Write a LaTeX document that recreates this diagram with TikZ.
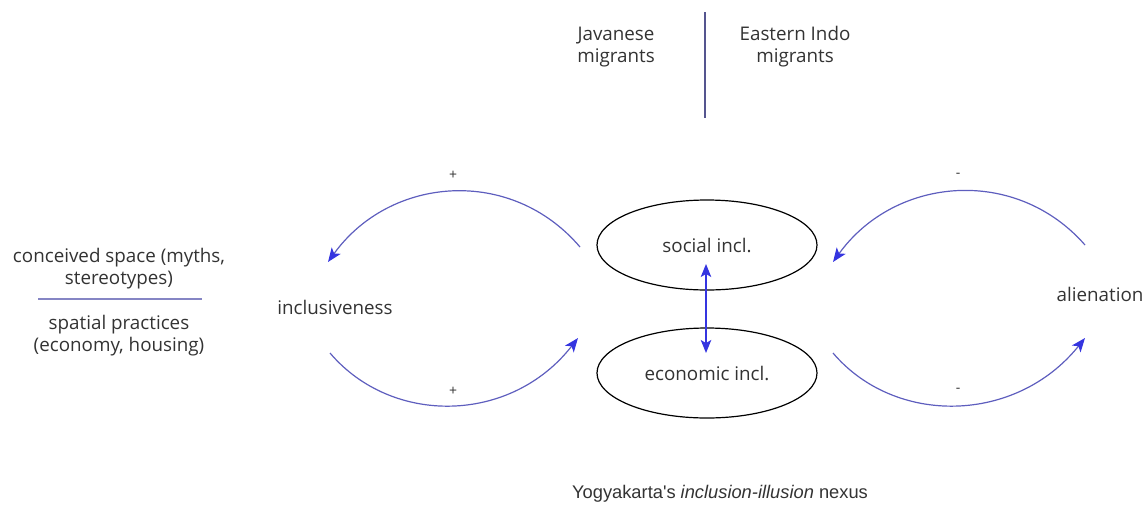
\documentclass[tikz,border=0pt]{standalone}
\usepackage{fontspec}
\newfontfamily\osfont{Open Sans}
\newfontfamily\arfont{Liberation Sans}[Ligatures=TeXOff]
\usetikzlibrary{arrows.meta,shapes.geometric}
\definecolor{txt}{HTML}{333333}
\definecolor{loopline}{HTML}{5E5EBE}
\definecolor{tipblue}{HTML}{3535E0}
\definecolor{divline}{HTML}{55558F}
\definecolor{sepline}{HTML}{8585C4}
\begin{document}
\begin{tikzpicture}[x=1pt,y=-1pt,
  lbl/.style={font=\osfont\fontsize{18.8}{22}\selectfont, text=txt, align=center, inner sep=0pt},
  sign/.style={font=\osfont\fontsize{14}{14}\selectfont, text=txt, inner sep=0pt},
  inclbox/.style={ellipse, draw=black, line width=1.2pt, minimum width=220pt, minimum height=90pt,
    inner sep=0pt, font=\osfont\fontsize{18.8}{22}\selectfont, text=txt},
  looparrow/.style={draw=loopline, line width=1.2pt,
    -{Stealth[length=14pt,width=11pt,inset=3.5pt,color=tipblue]}},
  twoway/.style={draw=tipblue, line width=1.3pt,
    {Stealth[length=13pt,width=10.5pt,inset=3pt]}-{Stealth[length=13pt,width=10.5pt,inset=3pt]}}
]
\useasboundingbox (0,0) rectangle (1145,512);

% migrant groups and divider
\node[lbl] (jav) at (616,47) {Javanese\\migrants};
\node[lbl] (east) at (795,47) {Eastern Indo\\migrants};
\coordinate (divtop) at (705,12);
\coordinate (divbot) at (705,118);
\draw[divline, line width=1.4pt] (divtop) -- (divbot);

% space legend
\node[lbl] (conc) at (119,269) {conceived space (myths,\\stereotypes)};
\node[lbl] (spat) at (119,336) {spatial practices\\(economy, housing)};
\coordinate (sepL) at (38,299);
\coordinate (sepR) at (202,299);
\draw[sepline, line width=2.2pt] (sepL) -- (sepR);

% outcomes
\node[lbl] (incl) at (335,307) {inclusiveness};
\node[lbl] (alien) at (1100,294) {alienation};

% inclusion dimensions
\node[inclbox] (soc) at (707,245) {social incl.};
\node[inclbox] (eco) at (707,373) {economic incl.};
\coordinate (dT) at (706,264);
\coordinate (dB) at (706,353);
\draw[twoway] (dT) -- (dB);

% loop end points
\coordinate (ulS) at (580,247);
\coordinate (ulE) at (328,262);
\coordinate (llS) at (330,353);
\coordinate (llE) at (578,338);
\coordinate (urS) at (1085,245);
\coordinate (urE) at (833,262);
\coordinate (lrS) at (833,353);
\coordinate (lrE) at (1085,338);

\draw[looparrow] (ulS) .. controls (511,166) and (390,176) .. (ulE);
\draw[looparrow] (llS) .. controls (392,426) and (511,424) .. (llE);
\draw[looparrow] (urS) .. controls (1016,166) and (895,176) .. (urE);
\draw[looparrow] (lrS) .. controls (895,426) and (1016,424) .. (lrE);

% polarity signs
\node[sign] (p1) at (453,175) {+};
\node[sign] (p2) at (453,391) {+};
\node[sign] (m1) at (958,175) {-};
\node[sign] (m2) at (958,390) {-};

% caption
\node[font=\arfont\fontsize{18.3}{22}\selectfont, text=txt] (cap) at (720,494)
  {Yogyakarta's \textit{inclusion-illusion} nexus};
\end{tikzpicture}
\end{document}
